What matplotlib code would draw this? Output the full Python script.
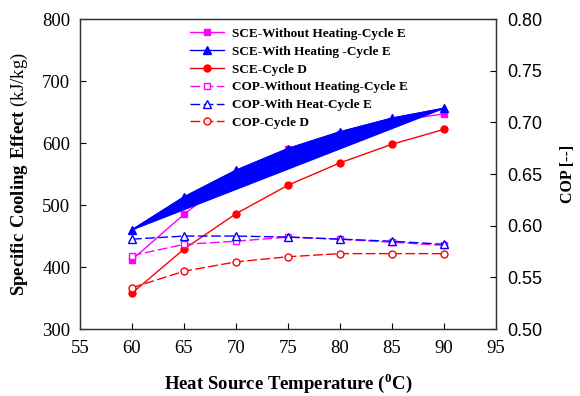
import numpy as np
import matplotlib
matplotlib.use("Agg")
import matplotlib.pyplot as plt

plt.rcParams['font.family'] = ['Liberation Serif', 'DejaVu Serif']
plt.rcParams['mathtext.fontset'] = 'custom'
plt.rcParams['mathtext.rm'] = 'Liberation Serif'
plt.rcParams['mathtext.bf'] = 'Liberation Serif:bold'

# ---- data ----
temp = [60, 65, 70, 75, 80, 85, 90]

sce_without_e = [412, 485, 550, 590, 615, 635, 647]
sce_with_e = [460, 513, 556, 591, 618, 640, 656]
sce_d = [358, 429, 486, 532, 568, 598, 622]

cop_without_e = [0.571, 0.582, 0.585, 0.589, 0.587, 0.584, 0.581]
cop_with_e = [0.587, 0.590, 0.590, 0.589, 0.587, 0.585, 0.582]
cop_d = [0.540, 0.556, 0.565, 0.570, 0.573, 0.573, 0.573]

fig = plt.figure(figsize=(5.8, 3.96), dpi=100)
ax = fig.add_axes([0.138, 0.169, 0.717, 0.783])
ax2 = ax.twinx()

dash = (7, 2.5)

# SCE (left axis)
l1, = ax.plot(temp, sce_without_e, '-', color='magenta', marker='s', ms=5, lw=1, zorder=2)
# the "with heating" series shows up as a closed filled polygon in the original
ax.fill(temp, sce_with_e, color='blue', zorder=3)
l2, = ax.plot(temp, sce_with_e, '-', color='blue', marker='^', ms=6, lw=1, zorder=3)
l3, = ax.plot(temp, sce_d, '-', color='red', marker='o', ms=5, lw=1, zorder=4)

# COP (right axis)
l4, = ax2.plot(temp, cop_without_e, color='magenta', marker='s', ms=5, mfc='white',
               lw=1, dashes=dash)
l5, = ax2.plot(temp, cop_with_e, color='blue', marker='^', ms=6, mfc='white',
               lw=1, dashes=dash)
l6, = ax2.plot(temp, cop_d, color='red', marker='o', ms=5, mfc='white',
               lw=1, dashes=dash)

ax.set_xlim(55, 95)
ax.set_ylim(300, 800)
ax2.set_ylim(0.50, 0.80)
ax.set_xticks(np.arange(55, 96, 5))
ax.set_yticks(np.arange(300, 801, 100))
ax2.set_yticks(np.arange(0.50, 0.801, 0.05))
ax2.set_yticklabels([f'{v:.2f}' for v in np.arange(0.50, 0.801, 0.05)],
                    family='Liberation Sans')

ax.tick_params(axis='both', direction='in', labelsize=13.5, length=4, width=0.8, pad=7)
ax.tick_params(axis='x', pad=8)
ax2.tick_params(axis='y', direction='in', labelsize=13, length=4, width=0.8, pad=8)
for a in (ax, ax2):
    for s in a.spines.values():
        s.set_linewidth(0.9)
        s.set_color('#333333')

ax.set_xlabel(r'Heat Source Temperature ($^{\mathbf{0}}$C)', fontsize=13.5,
              fontweight='bold', labelpad=10)
ax.set_ylabel(r'$\mathbf{Specific\ Cooling\ Effect}$ (kJ/kg)', fontsize=13.5, labelpad=9)
ax2.set_ylabel('COP [--]', fontsize=11.5, fontweight='bold', labelpad=13)

leg = ax.legend([l1, l2, l3, l4, l5, l6],
                ['SCE-Without Heating-Cycle E', 'SCE-With Heating -Cycle E', 'SCE-Cycle D',
                 'COP-Without Heating-Cycle E', 'COP-With Heat-Cycle E', 'COP-Cycle D'],
                loc='upper left', bbox_to_anchor=(0.235, 1.01), frameon=False,
                prop={'family': 'Liberation Serif', 'weight': 'bold', 'size': 9.5},
                handlelength=2.6, labelspacing=0.42, handletextpad=0.6)

fig.savefig('out.png', dpi=100)
